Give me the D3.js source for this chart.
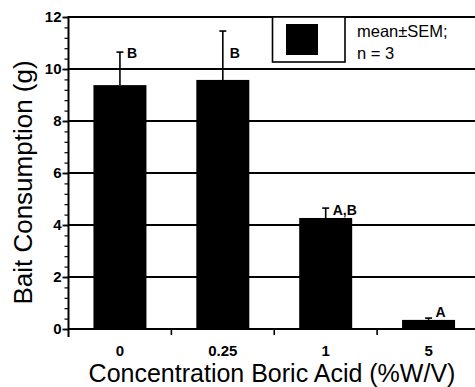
<!DOCTYPE html>
<html><head><meta charset="utf-8">
<script src="https://cdn.jsdelivr.net/npm/d3@7"></script>
<style>body{margin:0;background:#fff}svg{display:block;font-family:"Liberation Sans",Arial,Helvetica,sans-serif}</style>
</head><body><svg id="c" width="475" height="387"></svg>
<script>
const categories = ["0", "0.25", "1", "5"];
const means = [9.38, 9.58, 4.27, 0.35];
const sems = [1.27, 1.88, 0.38, 0.07];
const letters = ["B", "B", "A,B", "A"];
const letterDy = [6, 27, 7, -1];
const yTicks = [0, 2, 4, 6, 8, 10, 12];
const legendLines = ["mean\u00B1SEM;", "n = 3"];

const svg = d3.select("#c");
const L = 68.5, T = 17, B = 329, R = 480;
const x = d3.scaleBand().domain(categories).range([L, R]).paddingInner(0.485).paddingOuter(0.2425);
const y = d3.scaleLinear().domain([0, 12]).range([B, T]);

// gridlines
svg.append("g").selectAll("line").data(yTicks.filter(d => d > 0)).join("line")
  .attr("x1", L).attr("x2", R).attr("y1", d => y(d)).attr("y2", d => y(d))
  .attr("stroke", "#000").attr("stroke-width", d => d === 12 ? 2.2 : 1.8);

// bars
svg.append("g").selectAll("rect").data(categories).join("rect")
  .attr("x", d => x(d)).attr("width", x.bandwidth())
  .attr("y", (d, i) => y(means[i])).attr("height", (d, i) => B - y(means[i]))
  .attr("fill", "#000");

// error bars
const eb = svg.append("g").attr("stroke", "#000").attr("stroke-width", 1.6);
categories.forEach((c, i) => {
  const cx = x(c) + x.bandwidth() / 2;
  eb.append("line").attr("x1", cx).attr("x2", cx).attr("y1", y(means[i])).attr("y2", y(means[i] + sems[i]));
  eb.append("line").attr("x1", cx - 3.5).attr("x2", cx + 3.5).attr("y1", y(means[i] + sems[i])).attr("y2", y(means[i] + sems[i]));
  svg.append("text").attr("x", cx + 7).attr("y", y(means[i] + sems[i]) + letterDy[i])
    .attr("font-size", 14).attr("font-weight", "bold").text(letters[i]);
});

// y axis
const minor = d3.range(0, 12.001, 0.4).map(v => +v.toFixed(1));
const ya = svg.append("g").attr("transform", `translate(${L},0)`);
ya.call(d3.axisLeft(y).tickValues(minor).tickSize(4).tickFormat(""));
ya.selectAll(".domain").remove();
ya.selectAll("line").attr("stroke-width", 1.2);
const yb = svg.append("g").attr("transform", `translate(${L},0)`);
yb.call(d3.axisLeft(y).tickValues(yTicks).tickSize(6).tickPadding(1).tickFormat(d3.format("d")));
yb.select(".domain").remove();
yb.selectAll("line").attr("stroke-width", 1.8);
yb.selectAll("text").attr("font-size", 15).attr("font-weight", "bold").attr("fill", "#000").attr("font-family", "Liberation Sans, Arial, sans-serif");
svg.append("line").attr("x1", L).attr("x2", L).attr("y1", T - 1).attr("y2", B + 8).attr("stroke", "#000").attr("stroke-width", 2);

// x axis
svg.append("line").attr("x1", L).attr("x2", R).attr("y1", B).attr("y2", B).attr("stroke", "#000").attr("stroke-width", 1.8);
const bounds = categories.slice(1).map(c => x(c) - x.step() * x.paddingInner() / 2);
svg.append("g").selectAll("line").data(bounds).join("line")
  .attr("x1", d => d).attr("x2", d => d).attr("y1", B).attr("y2", B + 6)
  .attr("stroke", "#000").attr("stroke-width", 1.6);
svg.append("g").selectAll("text").data(categories).join("text")
  .attr("x", d => x(d) + x.bandwidth() / 2).attr("y", 356).attr("text-anchor", "middle")
  .attr("font-size", 15).attr("font-weight", "bold").text(d => d);

// titles
svg.append("text").attr("x", 272).attr("y", 382).attr("text-anchor", "middle")
  .attr("font-size", 25).text("Concentration Boric Acid (%W/V)");
svg.append("text").attr("transform", "translate(32,182.5) rotate(-90)").attr("text-anchor", "middle")
  .attr("font-size", 26).text("Bait Consumption (g)");

// legend
svg.append("rect").attr("x", 272.5).attr("y", 17).attr("width", 72.5).attr("height", 45)
  .attr("fill", "#fff").attr("stroke", "#000").attr("stroke-width", 1.6);
svg.append("rect").attr("x", 286).attr("y", 24).attr("width", 32).attr("height", 31).attr("fill", "#000");
svg.append("g").selectAll("text").data(legendLines).join("text")
  .attr("x", 357).attr("y", (d, i) => 37 + i * 22).attr("font-size", 16.5).text(d => d);
</script></body></html>
